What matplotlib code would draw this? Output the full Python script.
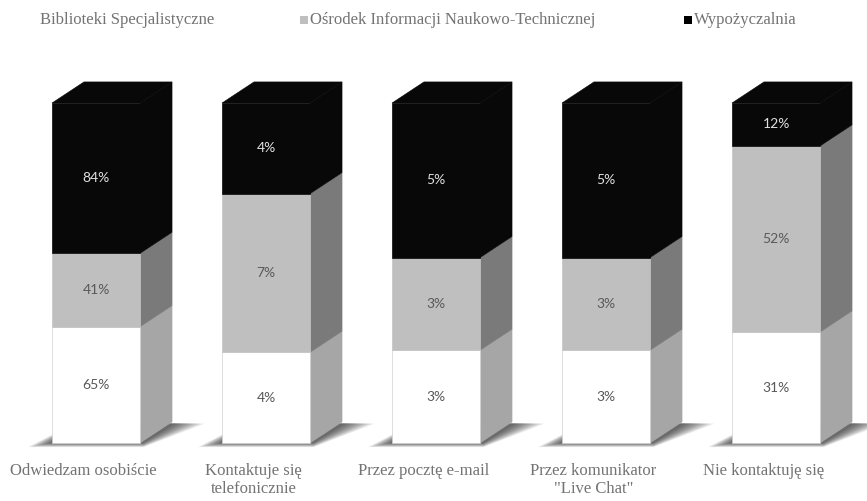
import matplotlib.pyplot as plt
from matplotlib.patches import Polygon, Rectangle
import numpy as np

# data
categories = ["Odwiedzam osobiście", "Kontaktuje się\ntelefonicznie", "Przez pocztę e-mail",
              "Przez komunikator\n\"Live Chat\"", "Nie kontaktuję się"]
series_names = ["Biblioteki Specjalistyczne", "Ośrodek Informacji Naukowo-Technicznej", "Wypożyczalnia"]
biblioteki = [65, 4, 3, 3, 31]
osrodek = [41, 7, 3, 3, 52]
wypozyczalnia = [84, 4, 5, 5, 12]

front_colors = ['#ffffff', '#bfbfbf', '#080808']
side_colors = ['#a6a6a6', '#7a7a7a', '#080808']
edge_colors = ['#d0d0d0', '#c4c4c4', '#080808']
label_colors = ['#595959', '#595959', '#e0e0e0']
text_grey = '#737373'

bar_w = 0.518   # front face width (category spacing = 1)
dx = 0.188      # depth offset in x
dy = 0.062      # depth offset in y


def shadow(ax, left, right):
    # soft floor shadow: stacked translucent parallelograms
    n = 9
    for k in range(n):
        t = k / (n - 1)
        ext_l = 0.13 * (1 - t) + 0.01
        ext_r = 0.17 * (1 - t) + 0.02
        low = 0.012 * (1 - t)
        pts = [(left - ext_l, -low),
               (right + 0.02, -low),
               (right + dx + ext_r, dy - 0.005),
               (left + dx - ext_l * 0.3, dy)]
        ax.add_patch(Polygon(pts, closed=True, facecolor='black', edgecolor='none',
                             alpha=0.09, zorder=1))


def main():
    fig = plt.figure(figsize=(8.67, 5.01), dpi=100)
    ax = fig.add_axes([0, 0, 1, 1])
    ax.set_xlim(-0.565, 4.535)
    ax.set_ylim(-0.1706, 1.303)
    ax.axis('off')

    data = np.array([biblioteki, osrodek, wypozyczalnia], dtype=float)
    shares = data / data.sum(axis=0)

    for i in range(len(categories)):
        left = i - bar_w / 2
        right = i + bar_w / 2
        shadow(ax, left, right)

        bottom = 0.0
        for j in range(len(series_names)):
            top = bottom + shares[j, i]
            ax.add_patch(Polygon([(right, bottom), (right + dx, bottom + dy),
                                  (right + dx, top + dy), (right, top)],
                                 closed=True, facecolor=side_colors[j], edgecolor=side_colors[j],
                                 linewidth=0.4, zorder=3))
            ax.add_patch(Polygon([(left, bottom), (right, bottom), (right, top), (left, top)],
                                 closed=True, facecolor=front_colors[j], edgecolor=edge_colors[j],
                                 linewidth=0.5, zorder=4))
            ax.text(i, (bottom + top) / 2, f'{data[j, i]:.0f}%', ha='center', va='center',
                    fontsize=10, family='Lato', color=label_colors[j], zorder=5)
            bottom = top
        # top face
        ax.add_patch(Polygon([(left, bottom), (right, bottom), (right + dx, bottom + dy),
                              (left + dx, bottom + dy)],
                             closed=True, facecolor='#080808', edgecolor='#080808',
                             linewidth=0.4, zorder=3))

        ax.text(i - 0.074, -0.06, categories[i], ha='center', va='top', fontsize=12,
                family='Liberation Serif', color=text_grey, linespacing=1.15)

    # legend along the top
    W, H = 867.0, 501.0
    legend_x = [30, 300, 684]
    legend_colors = ['#ffffff', '#bfbfbf', '#000000']
    for k, name in enumerate(series_names):
        x0 = legend_x[k]
        fig.patches.append(Rectangle((x0 / W, 1 - 24 / H), 8 / W, 8 / H, transform=fig.transFigure,
                                     facecolor=legend_colors[k], edgecolor='none'))
        fig.text((x0 + 10) / W, 1 - 20 / H, name, ha='left', va='center', fontsize=12,
                 family='Liberation Serif', color=text_grey)

    fig.savefig('out.png', dpi=100)


if __name__ == "__main__":
    main()
